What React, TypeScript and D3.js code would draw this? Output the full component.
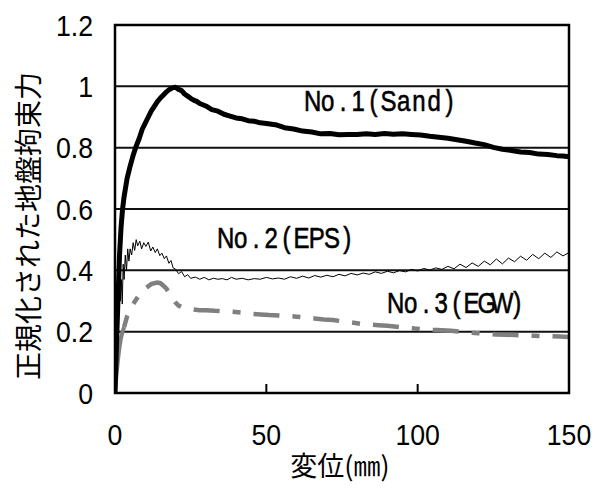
import React from "react";
import * as d3 from "d3";

const xTicks = [0, 50, 100, 150];
const yTicks = [0, 0.2, 0.4, 0.6, 0.8, 1.0, 1.2];
const yTickLabels = ["0", "0.2", "0.4", "0.6", "0.8", "1", "1.2"];

const sandX = [0,0.5,1,1.5,2,2.5,3,3.5,4,5,6,7,8,9,10,11,12,13,14,15,16,17,18,19,20,21,22,23,24,25,26,27,28,30,32,34,36,38,40,42,44,46,48,50,53,56,59,62,65,68,71,74,77,80,83,86,89,92,95,98,101,104,107,110,113,116,119,122,125,128,131,134,137,140,143,146,148,150];
const sandY = [0,0.16,0.31,0.45,0.54,0.6,0.64,0.67,0.7,0.74,0.775,0.805,0.83,0.86,0.88,0.90,0.92,0.935,0.95,0.962,0.972,0.982,0.99,0.995,0.997,0.99,0.986,0.975,0.968,0.961,0.955,0.951,0.944,0.936,0.924,0.919,0.909,0.903,0.897,0.894,0.888,0.886,0.881,0.879,0.875,0.865,0.861,0.854,0.851,0.845,0.846,0.842,0.843,0.843,0.845,0.843,0.846,0.844,0.845,0.843,0.841,0.837,0.834,0.831,0.826,0.821,0.815,0.81,0.801,0.795,0.791,0.786,0.784,0.779,0.778,0.774,0.773,0.77];

const epsX = [0,0.3,0.6,0.9,1.2,1.5,1.8,2.1,2.4,2.7,3.0,3.4,3.8,4.2,4.6,5.0,5.5,6.0,6.5,7.0,7.5,8.2,8.8,9.5,10.2,11,11.8,12.5,13.3,14,14.8,15.5,16.3,17,17.8,18.5,19.2,20,21,22,23,24,25,26.5,28,29.5,31,32.5,34,35.5,37,38.5,40,42,44,46,48,50,52,54,56,58,60,62,64,66,68,70,72,74,76,78,80,82,84,86,88,90,92,94,96,98,100,102,104,106,108,110,112,114,116,118,120,122,124,126,128,130,132,134,136,138,140,142,144,146,148,150];
const epsY = [0,0.15,0.3,0.36,0.27,0.38,0.3,0.37,0.29,0.42,0.37,0.45,0.4,0.47,0.43,0.47,0.45,0.49,0.465,0.5,0.48,0.495,0.47,0.49,0.478,0.492,0.463,0.476,0.458,0.47,0.448,0.456,0.438,0.447,0.423,0.432,0.408,0.404,0.389,0.396,0.379,0.386,0.374,0.378,0.371,0.377,0.369,0.374,0.371,0.373,0.369,0.377,0.371,0.374,0.369,0.373,0.371,0.377,0.372,0.375,0.371,0.379,0.374,0.381,0.375,0.383,0.378,0.384,0.379,0.387,0.382,0.39,0.385,0.391,0.387,0.395,0.39,0.397,0.392,0.399,0.395,0.403,0.398,0.406,0.401,0.408,0.403,0.413,0.405,0.42,0.409,0.424,0.413,0.43,0.418,0.437,0.421,0.44,0.428,0.446,0.433,0.452,0.438,0.456,0.442,0.46,0.447,0.458];

const egwX = [0,0.5,1,1.5,2,2.5,3,4,5,6,7,8,9,10,11,12,13,14,15,16,17,18,19,20,21,22,24,26,28,30,33,36,39,42,45,48,51,54,57,60,63,66,69,72,75,78,81,84,87,90,93,96,99,102,105,108,111,114,117,120,123,126,129,132,135,138,141,144,147,150];
const egwY = [0,0.06,0.11,0.15,0.18,0.2,0.215,0.25,0.27,0.29,0.305,0.32,0.33,0.34,0.348,0.355,0.358,0.36,0.358,0.35,0.34,0.325,0.31,0.295,0.285,0.28,0.275,0.272,0.27,0.27,0.268,0.267,0.265,0.262,0.258,0.256,0.254,0.253,0.251,0.249,0.246,0.243,0.24,0.238,0.234,0.23,0.226,0.223,0.221,0.219,0.216,0.213,0.21,0.208,0.206,0.205,0.203,0.2,0.197,0.195,0.193,0.191,0.19,0.189,0.188,0.187,0.186,0.185,0.184,0.183];

const seriesLabels = ["No.1(Sand)", "No.2(EPS)", "No.3(EGW)"];
const xTitle = "変位(㎜)";
const yTitle = "正規化された地盤拘束力";

const W = 608, H = 489;
const L = 115, R = 569, T = 25, B = 393;

const numFont = "'Liberation Sans', Arial, sans-serif";
const jpFont = "'Noto Sans CJK JP', sans-serif";

function MonoLabel({ text, x0, base }: { text: string; x0: number; base: number }) {
  const cell = 15.2;
  const sx = 0.8;
  const xs = text.split("").map((_, i) => ((i + 0.5) * cell) / sx);
  return (
    <text transform={`translate(${x0},${base}) scale(${sx},1)`} x={xs.join(" ")} y={0}
      textAnchor="middle" fontFamily={numFont} fontSize={30} fill="#000"
      stroke="#000" strokeWidth={0.6}>{text}</text>
  );
}

export default function App() {
  const x = d3.scaleLinear().domain([0, 150]).range([L, R]);
  const y = d3.scaleLinear().domain([0, 1.2]).range([B, T]);
  const line = d3.line<[number, number]>().x(d => x(d[0])).y(d => y(d[1])).curve(d3.curveLinear);

  const sand: [number, number][] = sandX.map((v, i) => [v, sandY[i]]);
  const eps: [number, number][] = epsX.map((v, i) => [v, epsY[i]]);
  const egw: [number, number][] = egwX.map((v, i) => [v, egwY[i]]);
  const solidEnd = egwX.indexOf(3);
  const egwSolid = egw.slice(0, solidEnd + 1);
  const egwDash = egw.slice(solidEnd);

  const P = [26, 13, 8, 13];
  const period = P.reduce((a, b) => a + b, 0);
  let len = 0;
  for (let i = 1; i < egwDash.length; i++) {
    if (egwDash[i][0] > 27) break;
    const dx = x(egwDash[i][0]) - x(egwDash[i - 1][0]);
    const dy = y(egwDash[i][1]) - y(egwDash[i - 1][1]);
    len += Math.hypot(dx, dy);
  }
  const offset = (period - (len % period)) % period;

  return (
    <svg width={W} height={H} style={{ position: "absolute", left: 0, top: 0, background: "#fff" }}>
      <rect x={0} y={0} width={W} height={H} fill="#fff" />
      <defs>
        <clipPath id="plot">
          <rect x={L} y={T} width={R - L} height={B - T} />
        </clipPath>
      </defs>
      {yTicks.filter(t => t > 0 && t < 1.2).map(t => (
        <line key={t} x1={L} x2={R} y1={y(t)} y2={y(t)} stroke="#111" strokeWidth={2} />
      ))}
      {xTicks.filter(t => t > 0 && t < 150).map(t => (
        <line key={t} x1={x(t)} x2={x(t)} y1={B} y2={B - 9} stroke="#000" strokeWidth={2} />
      ))}
      <g clipPath="url(#plot)">
        <path d={line(egwSolid) || ""} fill="none" stroke="#808080" strokeWidth={4} />
        <path d={line(egwDash) || ""} fill="none" stroke="#808080" strokeWidth={4.5}
          strokeDasharray={P.join(",")} strokeDashoffset={offset} />
        <path d={line(eps) || ""} fill="none" stroke="#000" strokeWidth={1} strokeLinejoin="miter" />
        <path d={line(sand) || ""} fill="none" stroke="#000" strokeWidth={5} strokeLinejoin="round" />
      </g>
      <rect x={L} y={T} width={R - L} height={B - T} fill="none" stroke="#000" strokeWidth={2.5} />
      {yTicks.map((t, i) => (
        <text key={t} transform={`translate(93,${y(t) + 10.5}) scale(0.92,1)`} textAnchor="end"
          fontFamily={numFont} fontSize={29} fill="#000">{yTickLabels[i]}</text>
      ))}
      {xTicks.map(t => (
        <text key={t} transform={`translate(${x(t)},445) scale(0.92,1)`} textAnchor="middle"
          fontFamily={numFont} fontSize={29} fill="#000">{String(t)}</text>
      ))}
      <MonoLabel text={seriesLabels[0]} x0={305} base={111} />
      <MonoLabel text={seriesLabels[1]} x0={218} base={248} />
      <MonoLabel text={seriesLabels[2]} x0={388} base={313} />
      <text x={340} y={476} textAnchor="middle" fontFamily={jpFont} fontSize={27} fill="#000">{xTitle}</text>
      <text transform={`translate(39,226) rotate(-90)`} textAnchor="middle" fontFamily={jpFont} fontSize={28} fill="#000">{yTitle}</text>
    </svg>
  );
}
